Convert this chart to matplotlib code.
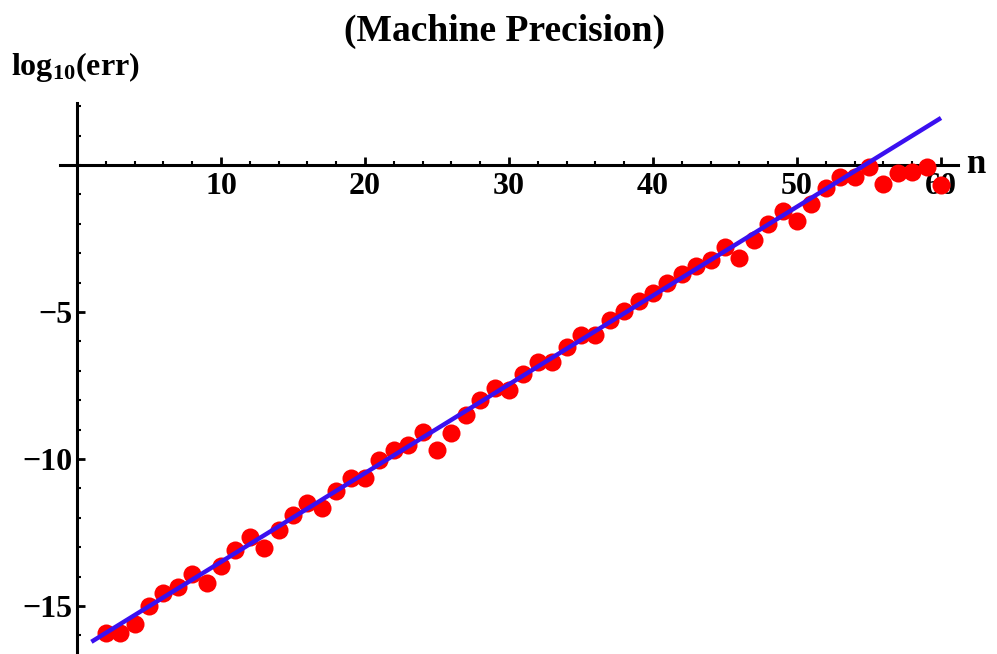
import numpy as np
import matplotlib.pyplot as plt
from matplotlib.ticker import MultipleLocator, FixedLocator

# ---------------------------------------------------------
# data
# ---------------------------------------------------------
n_vals = list(range(2, 61))
log_err = [
    -15.93, -15.93, -15.62, -15.00, -14.57, -14.36, -13.92, -14.23, -13.65,   # 2-10
    -13.10, -12.67, -13.04, -12.43, -11.92, -11.48, -11.65, -11.10, -10.63,   # 11-19
    -10.63, -10.05, -9.71, -9.54, -9.07, -9.71, -9.13, -8.49, -7.98,          # 20-28
    -7.57, -7.64, -7.10, -6.69, -6.69, -6.18, -5.77, -5.77, -5.26,            # 29-37
    -4.96, -4.62, -4.35, -4.00, -3.70, -3.43, -3.23, -2.78, -3.16,            # 38-46
    -2.55, -2.00, -1.56, -1.90, -1.32, -0.78, -0.41, -0.41, -0.07,            # 47-55
    -0.65, -0.27, -0.24, -0.07, -0.68,                                        # 56-60
]
fit_intercept = -16.52
fit_slope = 0.302
fit_range = [1, 60]

x_ticks = [10, 20, 30, 40, 50, 60]
y_ticks = [-15, -10, -5]

# ---------------------------------------------------------
# style
# ---------------------------------------------------------
plt.rcParams['font.family'] = ['Liberation Serif', 'DejaVu Serif']
plt.rcParams['font.weight'] = 'bold'
plt.rcParams['mathtext.fontset'] = 'custom'
plt.rcParams['mathtext.rm'] = 'Liberation Serif:bold'
plt.rcParams['mathtext.it'] = 'Liberation Serif:bold'
plt.rcParams['mathtext.bf'] = 'Liberation Serif:bold'

W, H = 997, 654
fig = plt.figure(figsize=(W / 100, H / 100), dpi=100)

# pixel mapping: x_px = 77 + 14.4*n ; y_px = 165 - 29.4*y
xlim = (-1.2, 61.2)
ylim = (-16.65, 2.1)
x0 = 77 + 14.4 * xlim[0]
x1 = 77 + 14.4 * xlim[1]
ytop = 165 - 29.4 * ylim[1]
ybot = 165 - 29.4 * ylim[0]
ax = fig.add_axes([x0 / W, 1 - ybot / H, (x1 - x0) / W, (ybot - ytop) / H])
ax.set_xlim(*xlim)
ax.set_ylim(*ylim)

# points + fit
ax.plot(n_vals, log_err, 'o', color='#ff0000', markersize=13, markeredgewidth=0, zorder=3)
fx = np.array(fit_range, dtype=float)
ax.plot(fx, fit_intercept + fit_slope * fx, color='#3a10f0', lw=3.2, zorder=4,
        solid_capstyle='butt')

# Mathematica-like crossing axes
for s in ['top', 'right']:
    ax.spines[s].set_visible(False)
ax.spines['left'].set_position(('data', 0))
ax.spines['bottom'].set_position(('data', 0))
ax.spines['left'].set_linewidth(2.2)
ax.spines['bottom'].set_linewidth(2.2)

ax.xaxis.set_major_locator(FixedLocator(x_ticks))
ax.xaxis.set_minor_locator(MultipleLocator(2))
ax.yaxis.set_major_locator(FixedLocator(y_ticks))
ax.yaxis.set_minor_locator(MultipleLocator(1))
ax.tick_params(axis='both', which='major', direction='in', length=6, width=2,
               labelsize=23)
ax.tick_params(axis='x', which='major', pad=5)
ax.tick_params(axis='y', which='major', pad=3)
ax.tick_params(axis='both', which='minor', direction='in', length=3, width=1.5)
ax.set_yticklabels(['\u221215', '\u221210', '\u22125'])
for lab in ax.get_xticklabels() + ax.get_yticklabels():
    lab.set_fontweight('bold')

ax.set_facecolor('none')
fig.patch.set_facecolor('white')

# texts
fig.text(504 / W, 1 - 31 / H, '(Machine Precision)', ha='center', va='center',
         fontsize=27, fontweight='bold')
fig.text(11 / W, 1 - 75 / H, r'$\mathrm{log}_{10}\mathrm{(err)}$', ha='left',
         va='baseline', fontsize=23)
fig.text(966 / W, 1 - 165 / H, 'n', ha='left', va='center', fontsize=25,
         fontweight='bold')

plt.savefig('out.png', dpi=100, facecolor='white')
